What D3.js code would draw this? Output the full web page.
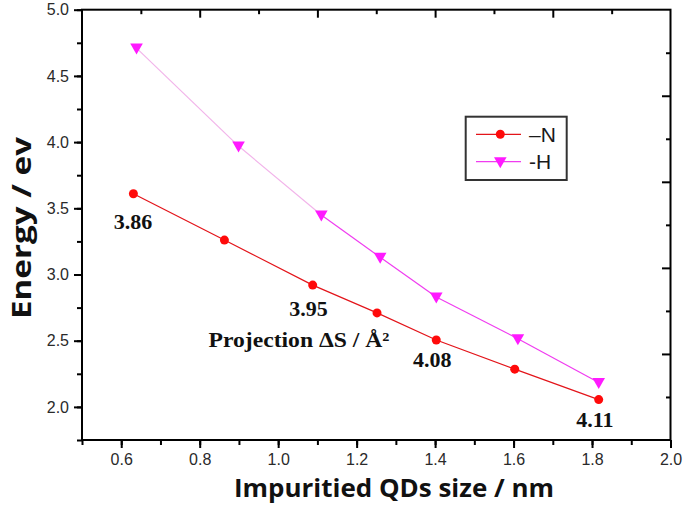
<!DOCTYPE html>
<html>
<head>
<meta charset="utf-8">
<script src="https://cdn.jsdelivr.net/npm/d3@7"></script>
<style>
  html, body { margin: 0; padding: 0; background: #fff; }
  svg { display: block; }
</style>
</head>
<body>
<svg id="chart" width="685" height="506"></svg>
<script>
// ---- data ----
const sizeN   = [0.631, 0.863, 1.088, 1.252, 1.403, 1.603, 1.817];
const energyN = [3.61, 3.26, 2.92, 2.71, 2.505, 2.285, 2.055];
const sizeH   = [0.639, 0.899, 1.110, 1.260, 1.403, 1.611, 1.817];
const energyH = [4.71, 3.97, 3.45, 3.13, 2.83, 2.515, 2.185];
const seriesNames = ["\u2013N", "-H"];
const xTicks = [0.6, 0.8, 1.0, 1.2, 1.4, 1.6, 1.8, 2.0];
const yTicks = [2.0, 2.5, 3.0, 3.5, 4.0, 4.5, 5.0];
const annoText = ["3.86", "3.95", "4.08", "4.11"];
const annoX    = [0.630, 1.077, 1.393, 1.807];
const annoY    = [3.344, 2.687, 2.299, 1.848];
const noteText = "Projection \u0394S / \u00C5\u00B2";
const noteX = 1.053, noteY = 2.450;
const xTitle = "Impuritied QDs size / nm";
const yTitle = "Energy / ev";

// ---- layout ----
const L = 82, R = 670.5, T = 9.7, B = 440;
const svg = d3.select("#chart");
const x = d3.scaleLinear().domain([0.5, 2.0]).range([L, R]);
const y = d3.scaleLinear().domain([1.75, 5.0]).range([B, T]);

const axisColor = "#000";
const tickFont = "'Liberation Sans', Arial, sans-serif";

// minor ticks
const xMinor = d3.range(0.5, 2.0001, 0.1).map(v => +v.toFixed(2));
const yMinor = d3.range(1.75, 5.0001, 0.25).map(v => +v.toFixed(2));

// bottom axis
const gx = svg.append("g").attr("transform", `translate(0,${B})`);
gx.call(d3.axisBottom(x).tickValues(xMinor).tickSize(5).tickFormat(""));
const gx2 = svg.append("g").attr("transform", `translate(0,${B})`);
gx2.call(d3.axisBottom(x).tickValues(xTicks).tickSize(8).tickPadding(6).tickFormat(d3.format(".1f")));

// left axis
const gy = svg.append("g").attr("transform", `translate(${L},0)`);
gy.call(d3.axisLeft(y).tickValues(yMinor).tickSize(5).tickFormat(""));
const gy2 = svg.append("g").attr("transform", `translate(${L},0)`);
gy2.call(d3.axisLeft(y).tickValues(yTicks).tickSize(8).tickPadding(5).tickFormat(d3.format(".1f")));

// top & right secondary axes (10 intervals, inward ticks)
const xt = d3.scaleLinear().domain([0, 10]).range([L, R]);
const yr = d3.scaleLinear().domain([0, 10]).range([T, B]);
const inner = d3.range(1, 10);
const gt = svg.append("g").attr("transform", `translate(0,${T})`);
gt.call(d3.axisBottom(xt).tickValues(inner).tickSizeOuter(0).tickSizeInner(0).tickFormat(""));
gt.selectAll(".tick line").attr("y2", d => d % 2 === 0 ? 8 : 4.5);
const gr = svg.append("g").attr("transform", `translate(${R},0)`);
gr.call(d3.axisRight(yr).tickValues(inner).tickSizeOuter(0).tickSizeInner(0).tickFormat(""));
gr.selectAll(".tick line").attr("x2", d => d % 2 === 0 ? -8.5 : -4.5);

[gx, gx2, gy, gy2, gt, gr].forEach(g => {
  g.select(".domain").remove();
  g.selectAll(".tick line").attr("stroke", axisColor).attr("stroke-width", 2);
  g.selectAll(".tick text").attr("fill", "#2a2a2a").attr("font-size", 16).attr("font-family", tickFont);
});

// frame
svg.append("rect").attr("x", L).attr("y", T).attr("width", R - L).attr("height", B - T)
  .attr("fill", "none").attr("stroke", axisColor).attr("stroke-width", 2);

// ---- series ----
const ptsN = sizeN.map((s, i) => [x(s), y(energyN[i])]);
const ptsH = sizeH.map((s, i) => [x(s), y(energyH[i])]);

svg.append("path").attr("d", d3.line()(ptsN)).attr("fill", "none")
  .attr("stroke", "#e3141a").attr("stroke-width", 1.2);

// H line: first segments appear pale in the reference
for (let i = 0; i < ptsH.length - 1; i++) {
  svg.append("path").attr("d", d3.line()([ptsH[i], ptsH[i + 1]]))
    .attr("fill", "none")
    .attr("stroke", i < 2 ? "#f2b4ea" : "#f03cf0")
    .attr("stroke-width", 1.2);
}

const tri = "M-6.3,-4.5L6.3,-4.5L0,6.5Z";
svg.selectAll(".mN").data(ptsN).enter().append("circle")
  .attr("cx", d => d[0]).attr("cy", d => d[1]).attr("r", 4.5).attr("fill", "#ff0a0a");
svg.selectAll(".mH").data(ptsH).enter().append("path")
  .attr("d", tri).attr("transform", d => `translate(${d[0]},${d[1]})`).attr("fill", "#ff1aff");

// ---- annotations ----
const serif = "'Liberation Serif', 'Times New Roman', serif";
annoText.forEach((t, i) => {
  svg.append("text").attr("x", x(annoX[i])).attr("y", y(annoY[i]))
    .attr("text-anchor", "middle").attr("font-family", serif).attr("font-weight", "bold")
    .attr("font-size", 22).attr("fill", "#111").text(t);
});
svg.append("text").attr("x", x(noteX)).attr("y", y(noteY))
  .attr("text-anchor", "middle").attr("font-family", serif).attr("font-weight", "bold")
  .attr("font-size", 22).attr("fill", "#111").attr("textLength", 181).attr("lengthAdjust", "spacingAndGlyphs")
  .text(noteText);

// ---- legend ----
const lg = svg.append("g");
lg.append("rect").attr("x", 465.7).attr("y", 116.7).attr("width", 101).attr("height", 63.3)
  .attr("fill", "#fff").attr("stroke", "#333").attr("stroke-width", 2);
const legY = [134.3, 161.7];
lg.append("line").attr("x1", 476).attr("x2", 521).attr("y1", legY[0]).attr("y2", legY[0])
  .attr("stroke", "#e3141a").attr("stroke-width", 1.2);
lg.append("circle").attr("cx", 500.3).attr("cy", legY[0]).attr("r", 4.5).attr("fill", "#ff0a0a");
lg.append("line").attr("x1", 476).attr("x2", 521).attr("y1", legY[1]).attr("y2", legY[1])
  .attr("stroke", "#f03cf0").attr("stroke-width", 1.2);
lg.append("path").attr("d", tri).attr("transform", `translate(500.3,${legY[1]})`).attr("fill", "#ff1aff");
seriesNames.forEach((n, i) => {
  lg.append("text").attr("x", 529).attr("y", legY[i] + 7.5).attr("font-family", tickFont)
    .attr("font-size", 21).attr("fill", "#1a1a1a").text(n);
});

// ---- titles ----
svg.append("text").attr("x", 394).attr("y", 497).attr("text-anchor", "middle")
  .attr("font-family", "'Open Sans', 'Liberation Sans', sans-serif").attr("font-weight", "bold")
  .attr("font-size", 25).attr("fill", "#111").attr("textLength", 320).attr("lengthAdjust", "spacingAndGlyphs")
  .text(xTitle);
svg.append("text").attr("transform", "translate(31,228) rotate(-90)").attr("text-anchor", "middle")
  .attr("font-family", "'Open Sans', 'Liberation Sans', sans-serif").attr("font-weight", "bold")
  .attr("font-size", 26).attr("fill", "#111").attr("textLength", 182).attr("lengthAdjust", "spacingAndGlyphs")
  .text(yTitle);
</script>
</body>
</html>
